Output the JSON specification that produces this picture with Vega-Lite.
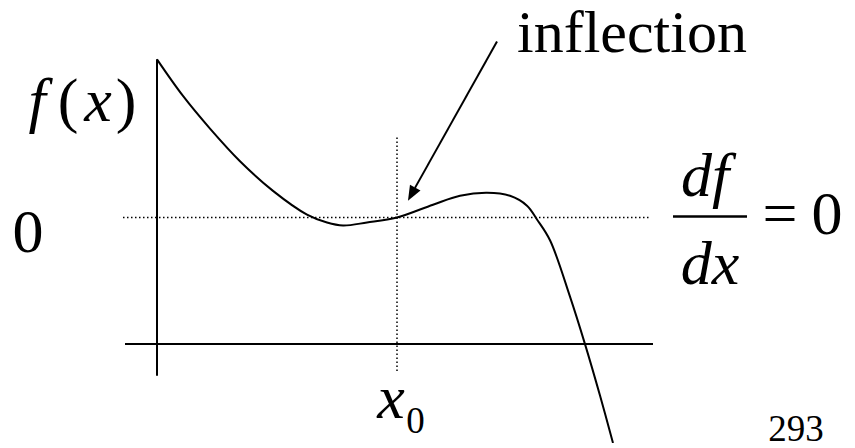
{
  "$schema": "https://vega.github.io/schema/vega-lite/v6.json",
  "width": 855,
  "height": 448,
  "autosize": {"type": "fit", "contains": "padding"},
  "padding": 0,
  "background": "white",
  "config": {"view": {"stroke": null}, "axis": {"disable": true}},
  "datasets": {
    "solid": [
      {"x": 0, "y": 16.0, "x2": 0, "y2": -16.0},
      {"x": -3.2, "y": -12.8, "x2": 49.6, "y2": -12.8}
    ],
    "dotted": [
      {"x": -3.4, "y": 0, "x2": 49.3, "y2": 0},
      {"x": 24.0, "y": 8.1, "x2": 24.0, "y2": -15.7}
    ],
    "curve": [
      {"x": 0.0, "y": 16.0},
      {"x": 2.6, "y": 12.3},
      {"x": 5.3, "y": 9.0},
      {"x": 8.3, "y": 5.7},
      {"x": 11.6, "y": 2.7},
      {"x": 15.0, "y": 0.3},
      {"x": 17.0, "y": -0.5},
      {"x": 18.6, "y": -0.8},
      {"x": 21.0, "y": -0.5},
      {"x": 24.0, "y": 0.0},
      {"x": 27.6, "y": 1.3},
      {"x": 30.3, "y": 2.2},
      {"x": 33.0, "y": 2.5},
      {"x": 35.3, "y": 2.2},
      {"x": 37.0, "y": 1.2},
      {"x": 38.0, "y": -0.2},
      {"x": 39.3, "y": -2.3},
      {"x": 41.3, "y": -8.0},
      {"x": 42.8, "y": -12.8},
      {"x": 44.3, "y": -18.0},
      {"x": 45.6, "y": -22.8}
    ],
    "arrow": [
      {"x": 34.0, "y": 17.8, "x2": 25.8, "y2": 3.0}
    ],
    "head": [
      {"x": 25.46, "y": 2.36, "angle": 209}
    ],
    "bar": [
      {"x": 51.6, "y": 0.1, "x2": 59.0, "y2": 0.1}
    ],
    "texts": [
      {"label": "inflection", "x": 36.0, "y": 16.7, "kind": "word"},
      {"label": "f", "x": -12.0, "y": 9.8, "kind": "italic"},
      {"label": "(", "x": -8.9, "y": 9.8, "kind": "upright"},
      {"label": "x", "x": -5.9, "y": 9.8, "kind": "italic"},
      {"label": ")", "x": -3.1, "y": 9.8, "kind": "upright"},
      {"label": "0", "x": -12.9, "y": -3.5, "kind": "upright"},
      {"label": "df", "x": 54.8, "y": 2.2, "kind": "italic"},
      {"label": "dx", "x": 55.3, "y": -6.7, "kind": "italic"},
      {"label": "=", "x": 62.3, "y": -1.7, "kind": "upright"},
      {"label": "0", "x": 67.0, "y": -1.7, "kind": "upright"},
      {"label": "x", "x": 23.4, "y": -20.3, "kind": "italic"},
      {"label": "0", "x": 25.85, "y": -21.8, "kind": "small"},
      {"label": "293", "x": 63.9, "y": -22.6, "kind": "small"}
    ]
  },
  "layer": [
    {
      "data": {"name": "solid"},
      "mark": {"type": "rule", "stroke": "black", "strokeWidth": 2},
      "encoding": {
        "x": {"field": "x", "type": "quantitative", "scale": {"domain": [-15.7, 69.8], "nice": false, "zero": false}},
        "y": {"field": "y", "type": "quantitative", "scale": {"domain": [-22.8, 22.0], "nice": false, "zero": false}},
        "x2": {"field": "x2"},
        "y2": {"field": "y2"}
      }
    },
    {
      "data": {"name": "dotted"},
      "mark": {"type": "rule", "stroke": "black", "strokeWidth": 1.5, "strokeDash": [1.5, 2.5]},
      "encoding": {
        "x": {"field": "x", "type": "quantitative"},
        "y": {"field": "y", "type": "quantitative"},
        "x2": {"field": "x2"},
        "y2": {"field": "y2"}
      }
    },
    {
      "data": {"name": "curve"},
      "mark": {"type": "line", "stroke": "black", "strokeWidth": 2, "interpolate": "catmull-rom", "clip": true},
      "encoding": {
        "x": {"field": "x", "type": "quantitative"},
        "y": {"field": "y", "type": "quantitative"}
      }
    },
    {
      "data": {"name": "arrow"},
      "mark": {"type": "rule", "stroke": "black", "strokeWidth": 2},
      "encoding": {
        "x": {"field": "x", "type": "quantitative"},
        "y": {"field": "y", "type": "quantitative"},
        "x2": {"field": "x2"},
        "y2": {"field": "y2"}
      }
    },
    {
      "data": {"name": "head"},
      "mark": {"type": "point", "shape": "M0,-1L-0.8,1L0.8,1Z", "filled": true, "fill": "black", "opacity": 1, "size": 225, "strokeWidth": 0},
      "encoding": {
        "x": {"field": "x", "type": "quantitative"},
        "y": {"field": "y", "type": "quantitative"},
        "angle": {"field": "angle", "type": "quantitative", "scale": null}
      }
    },
    {
      "data": {"name": "bar"},
      "mark": {"type": "rule", "stroke": "black", "strokeWidth": 2.5},
      "encoding": {
        "x": {"field": "x", "type": "quantitative"},
        "y": {"field": "y", "type": "quantitative"},
        "x2": {"field": "x2"},
        "y2": {"field": "y2"}
      }
    },
    {
      "data": {"name": "texts"},
      "transform": [{"filter": "datum.kind === 'word'"}],
      "mark": {"type": "text", "font": "Liberation Serif", "fontSize": 60, "align": "left", "baseline": "alphabetic", "fill": "black"},
      "encoding": {
        "x": {"field": "x", "type": "quantitative"},
        "y": {"field": "y", "type": "quantitative"},
        "text": {"field": "label"}
      }
    },
    {
      "data": {"name": "texts"},
      "transform": [{"filter": "datum.kind === 'upright'"}],
      "mark": {"type": "text", "font": "Liberation Serif", "fontSize": 62, "align": "center", "baseline": "alphabetic", "fill": "black"},
      "encoding": {
        "x": {"field": "x", "type": "quantitative"},
        "y": {"field": "y", "type": "quantitative"},
        "text": {"field": "label"}
      }
    },
    {
      "data": {"name": "texts"},
      "transform": [{"filter": "datum.kind === 'italic'"}],
      "mark": {"type": "text", "font": "Liberation Serif", "fontStyle": "italic", "fontSize": 62, "align": "center", "baseline": "alphabetic", "fill": "black"},
      "encoding": {
        "x": {"field": "x", "type": "quantitative"},
        "y": {"field": "y", "type": "quantitative"},
        "text": {"field": "label"}
      }
    },
    {
      "data": {"name": "texts"},
      "transform": [{"filter": "datum.kind === 'small'"}],
      "mark": {"type": "text", "font": "Liberation Serif", "fontSize": 37, "align": "center", "baseline": "alphabetic", "fill": "black"},
      "encoding": {
        "x": {"field": "x", "type": "quantitative"},
        "y": {"field": "y", "type": "quantitative"},
        "text": {"field": "label"}
      }
    }
  ]
}
